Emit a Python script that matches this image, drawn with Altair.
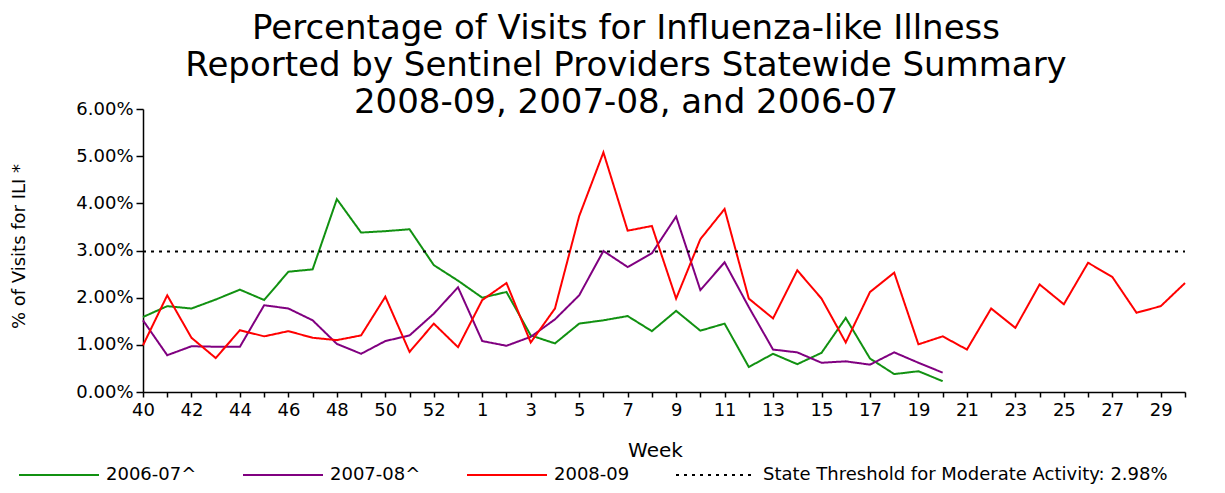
import altair as alt
import pandas as pd

# Categories: MMWR weeks 40..53 (2008 had a week 53) then 1..30
weeks = [str(w) for w in list(range(40, 54)) + list(range(1, 31))]
labeled_weeks = [str(w) for w in list(range(40, 53, 2)) + list(range(1, 30, 2))]

# Percent of visits for ILI
s0607 = [1.59, 1.82, 1.77, 1.96, 2.17, 1.95, 2.55, 2.60, 4.09, 3.38, 3.41, 3.45, 2.69, 2.36,
         2.00, 2.12, 1.20, 1.03, 1.45, 1.52, 1.61, 1.29, 1.72, 1.30, 1.45, 0.53, 0.81, 0.59,
         0.83, 1.57, 0.71, 0.38, 0.44, 0.23]
s0708 = [1.52, 0.78, 0.97, 0.96, 0.96, 1.84, 1.77, 1.52, 1.02, 0.81, 1.08, 1.20, 1.66, 2.22,
         1.08, 0.98, 1.17, 1.54, 2.05, 2.99, 2.65, 2.94, 3.72, 2.16, 2.75, 1.80, 0.90, 0.84,
         0.62, 0.65, 0.58, 0.84, 0.62, 0.41]
s0809 = [0.99, 2.05, 1.15, 0.72, 1.31, 1.18, 1.29, 1.15, 1.10, 1.20, 2.02, 0.85, 1.45, 0.95,
         1.95, 2.31, 1.05, 1.77, 3.73, 5.08, 3.42, 3.52, 1.98, 3.24, 3.88, 1.98, 1.56, 2.58,
         1.98, 1.05, 2.12, 2.53, 1.01, 1.18, 0.90, 1.77, 1.36, 2.28, 1.86, 2.74, 2.44, 1.68,
         1.82, 2.31]
threshold = 2.98

series_names = ["2006-07^", "2007-08^", "2008-09",
                "State Threshold for Moderate Activity: 2.98%"]
colors = ["#119111", "#800080", "#ff0000", "#000000"]
dashes = [[1, 0], [1, 0], [1, 0], [3, 5]]

rows = []
for name, vals in zip(series_names[:3], [s0607, s0708, s0809]):
    for w, v in zip(weeks, vals):
        rows.append({"week": w, "pct": v / 100.0, "series": name})
for w in weeks:
    rows.append({"week": w, "pct": threshold / 100.0, "series": series_names[3]})
df = pd.DataFrame(rows)

FONT = "DejaVu Sans"
label_list = ",".join("'%s'" % w for w in labeled_weeks)
label_expr = "indexof([%s], datum.label) >= 0 ? datum.label : ''" % label_list

x = alt.X(
    "week:O",
    sort=weeks,
    scale=alt.Scale(type="point", padding=0),
    axis=alt.Axis(
        title="Week",
        labelAngle=0,
        labelExpr=label_expr,
        labelOverlap=False,
        labelFontSize=18,
        labelFont=FONT,
        labelColor="black",
        labelPadding=4,
        tickSize=5,
        tickWidth=1.5,
        tickColor="black",
        domainColor="black",
        domainWidth=1.5,
        titleFontSize=20,
        titleFont=FONT,
        titleFontWeight="normal",
        titleColor="black",
        titleX=512,
        titleY=58,
        titleAlign="center",
        titleBaseline="middle",
    ),
)

y = alt.Y(
    "pct:Q",
    scale=alt.Scale(domain=[0, 0.06], nice=False),
    axis=alt.Axis(
        title="% of Visits for ILI *",
        values=[0, 0.01, 0.02, 0.03, 0.04, 0.05, 0.06],
        format=".2%",
        grid=False,
        labelFontSize=18,
        labelFont=FONT,
        labelColor="black",
        labelPadding=3,
        tickSize=7,
        tickWidth=1.5,
        tickColor="black",
        domainColor="black",
        domainWidth=1.5,
        titleFontSize=18,
        titleFont=FONT,
        titleFontWeight="normal",
        titleColor="black",
        titleAngle=270,
        titleX=-124,
        titleY=137,
        titleAlign="center",
        titleBaseline="middle",
    ),
)

legend = alt.Legend(
    title=None,
    orient="none",
    legendX=-125,
    legendY=325,
    direction="horizontal",
    symbolType="stroke",
    symbolSize=6400,
    symbolStrokeWidth=2,
    labelFontSize=18,
    labelFont=FONT,
    labelColor="black",
    labelOffset=6,
    labelLimit=600,
    columnPadding=42,
)

chart = (
    alt.Chart(df)
    .mark_line(strokeWidth=2)
    .encode(
        x=x,
        y=y,
        color=alt.Color("series:N", sort=series_names,
                        scale=alt.Scale(domain=series_names, range=colors),
                        legend=legend),
        strokeDash=alt.StrokeDash("series:N", sort=series_names,
                                  scale=alt.Scale(domain=series_names, range=dashes),
                                  legend=legend),
        detail="series:N",
    )
    .properties(
        width=1042,
        height=283,
        autosize=alt.AutoSizeParams(type="none"),
        padding={"left": 135, "top": 101, "right": 32, "bottom": 92},
        title=alt.TitleParams(
            text=["Percentage of Visits for Influenza-like Illness",
                  "Reported by Sentinel Providers Statewide Summary",
                  "2008-09, 2007-08, and 2006-07"],
            fontSize=34,
            font=FONT,
            fontWeight="normal",
            color="black",
            anchor="middle",
            lineHeight=37,
            baseline="alphabetic",
            offset=0,
            dx=-38,
            dy=47,
        ),
    )
    .configure(background="white", view=alt.ViewConfig(stroke=None))
)

chart.save("out.html", embed_options={"renderer": "svg", "actions": False})
